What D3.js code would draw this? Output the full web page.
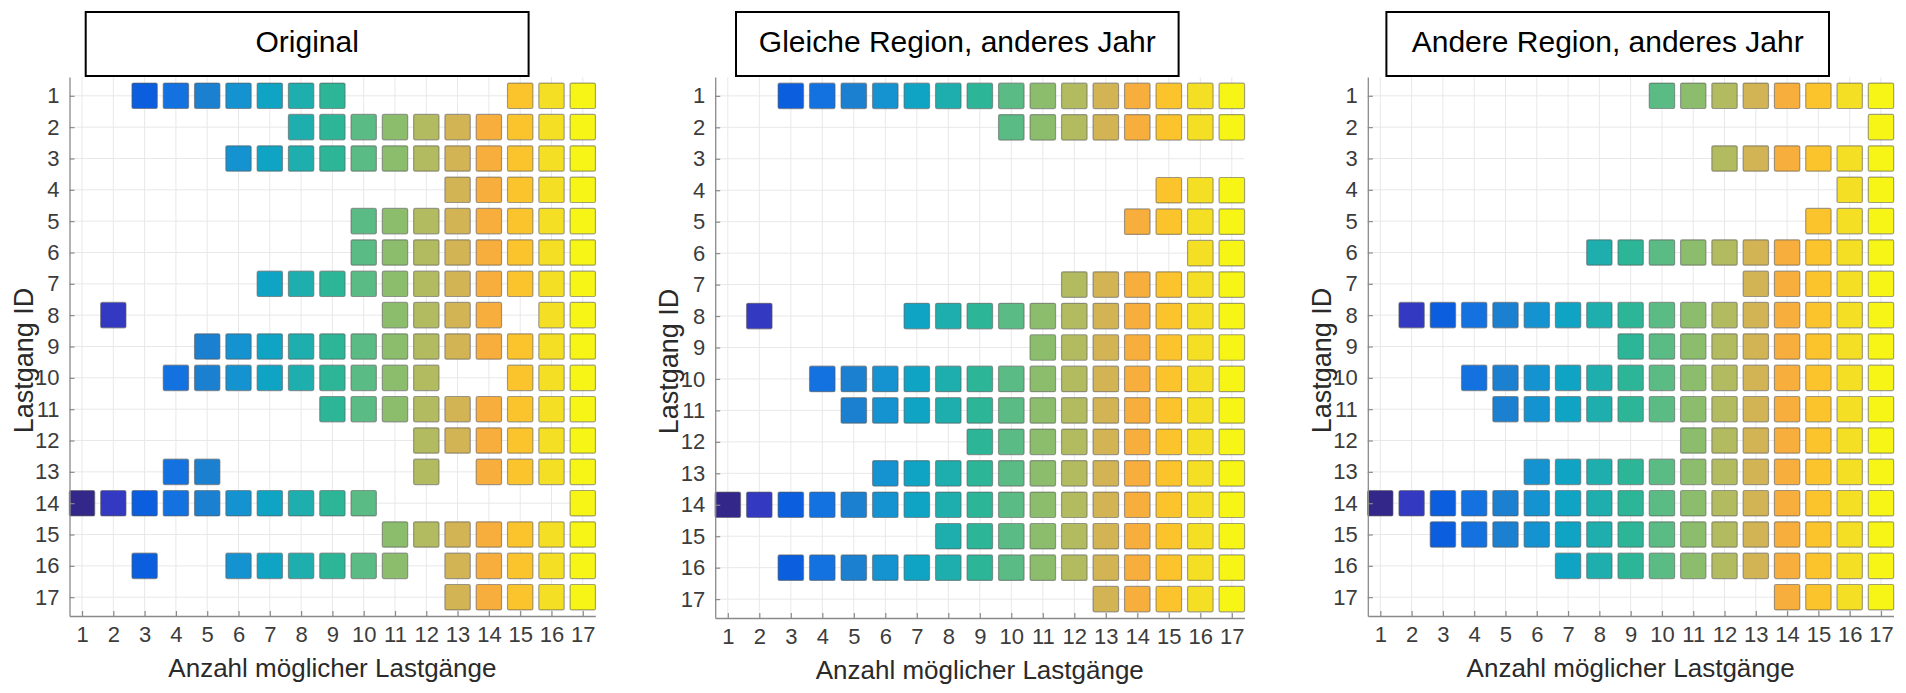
<!DOCTYPE html>
<html>
<head>
<meta charset="utf-8">
<script src="https://cdn.jsdelivr.net/npm/d3@7"></script>
<style>
  html, body { margin: 0; padding: 0; background: #ffffff; }
  svg { display: block; }
  text { font-family: "Liberation Sans", Arial, Helvetica, sans-serif; }
</style>
</head>
<body>
<svg id="chart" width="1906" height="693"></svg>
<script>
// ---------------- DATA ----------------
const panelTitles = ["Original", "Gleiche Region, anderes Jahr", "Andere Region, anderes Jahr"];
const xAxisLabel = "Anzahl möglicher Lastgänge";
const yAxisLabel = "Lastgang ID";
const tickValues = [1, 2, 3, 4, 5, 6, 7, 8, 9, 10, 11, 12, 13, 14, 15, 16, 17];

// Per Lastgang ID (row 1..17): the columns (Anzahl möglicher Lastgänge) that are filled
const originalRows = [
  [3, 4, 5, 6, 7, 8, 9, 15, 16, 17],
  [8, 9, 10, 11, 12, 13, 14, 15, 16, 17],
  [6, 7, 8, 9, 10, 11, 12, 13, 14, 15, 16, 17],
  [13, 14, 15, 16, 17],
  [10, 11, 12, 13, 14, 15, 16, 17],
  [10, 11, 12, 13, 14, 15, 16, 17],
  [7, 8, 9, 10, 11, 12, 13, 14, 15, 16, 17],
  [2, 11, 12, 13, 14, 16, 17],
  [5, 6, 7, 8, 9, 10, 11, 12, 13, 14, 15, 16, 17],
  [4, 5, 6, 7, 8, 9, 10, 11, 12, 15, 16, 17],
  [9, 10, 11, 12, 13, 14, 15, 16, 17],
  [12, 13, 14, 15, 16, 17],
  [4, 5, 12, 14, 15, 16, 17],
  [1, 2, 3, 4, 5, 6, 7, 8, 9, 10, 17],
  [11, 12, 13, 14, 15, 16, 17],
  [3, 6, 7, 8, 9, 10, 11, 13, 14, 15, 16, 17],
  [13, 14, 15, 16, 17]
];

const sameRegionRows = [
  [3, 4, 5, 6, 7, 8, 9, 10, 11, 12, 13, 14, 15, 16, 17],
  [10, 11, 12, 13, 14, 15, 16, 17],
  [],
  [15, 16, 17],
  [14, 15, 16, 17],
  [16, 17],
  [12, 13, 14, 15, 16, 17],
  [2, 7, 8, 9, 10, 11, 12, 13, 14, 15, 16, 17],
  [11, 12, 13, 14, 15, 16, 17],
  [4, 5, 6, 7, 8, 9, 10, 11, 12, 13, 14, 15, 16, 17],
  [5, 6, 7, 8, 9, 10, 11, 12, 13, 14, 15, 16, 17],
  [9, 10, 11, 12, 13, 14, 15, 16, 17],
  [6, 7, 8, 9, 10, 11, 12, 13, 14, 15, 16, 17],
  [1, 2, 3, 4, 5, 6, 7, 8, 9, 10, 11, 12, 13, 14, 15, 16, 17],
  [8, 9, 10, 11, 12, 13, 14, 15, 16, 17],
  [3, 4, 5, 6, 7, 8, 9, 10, 11, 12, 13, 14, 15, 16, 17],
  [13, 14, 15, 16, 17]
];

const otherRegionRows = [
  [10, 11, 12, 13, 14, 15, 16, 17],
  [17],
  [12, 13, 14, 15, 16, 17],
  [16, 17],
  [15, 16, 17],
  [8, 9, 10, 11, 12, 13, 14, 15, 16, 17],
  [13, 14, 15, 16, 17],
  [2, 3, 4, 5, 6, 7, 8, 9, 10, 11, 12, 13, 14, 15, 16, 17],
  [9, 10, 11, 12, 13, 14, 15, 16, 17],
  [4, 5, 6, 7, 8, 9, 10, 11, 12, 13, 14, 15, 16, 17],
  [5, 6, 7, 8, 9, 10, 11, 12, 13, 14, 15, 16, 17],
  [11, 12, 13, 14, 15, 16, 17],
  [6, 7, 8, 9, 10, 11, 12, 13, 14, 15, 16, 17],
  [1, 2, 3, 4, 5, 6, 7, 8, 9, 10, 11, 12, 13, 14, 15, 16, 17],
  [3, 4, 5, 6, 7, 8, 9, 10, 11, 12, 13, 14, 15, 16, 17],
  [7, 8, 9, 10, 11, 12, 13, 14, 15, 16, 17],
  [14, 15, 16, 17]
];

// colour per column (parula-like)
const columnColors = [
  "#33288a", "#3439c2", "#0b5fde", "#1472e0", "#1b80d0", "#1493d0",
  "#10a4c4", "#1eaeae", "#2db597", "#5bbb85", "#8bbd6d", "#b3bb60",
  "#d3b454", "#f8ae3c", "#fcc42c", "#f5df24", "#f6f515"
];

// ---------------- LAYOUT ----------------
const panels = [
  { title: panelTitles[0], rows: originalRows,    x0: 69.5,   x1: 595.3,  y0: 77, y1: 616, box: [85.7, 528.6] },
  { title: panelTitles[1], rows: sameRegionRows,  x0: 715.2,  x1: 1244.4, y0: 77, y1: 618, box: [736, 1178.6] },
  { title: panelTitles[2], rows: otherRegionRows, x0: 1367.8, x1: 1893.5, y0: 77, y1: 616, box: [1386.4, 1829] }
];

const svg = d3.select("#chart");
svg.append("rect").attr("width", 1906).attr("height", 693).attr("fill", "#ffffff");

const colorScale = d3.scaleOrdinal().domain(tickValues).range(columnColors);

panels.forEach(p => {
  const g = svg.append("g");
  const x = d3.scaleLinear().domain([0.6, 17.4]).range([p.x0, p.x1]);
  const y = d3.scaleLinear().domain([0.4, 17.6]).range([p.y0, p.y1]);

  // grid
  g.append("g").selectAll("line").data(tickValues).join("line")
    .attr("x1", d => x(d)).attr("x2", d => x(d))
    .attr("y1", p.y0).attr("y2", p.y1)
    .attr("stroke", "#e8e8e8").attr("stroke-width", 1);
  g.append("g").selectAll("line").data(tickValues).join("line")
    .attr("y1", d => y(d)).attr("y2", d => y(d))
    .attr("x1", p.x0).attr("x2", p.x1)
    .attr("stroke", "#e8e8e8").attr("stroke-width", 1);

  // cells
  const cells = [];
  p.rows.forEach((cols, i) => {
    cols.forEach(c => cells.push({ row: tickValues[i], col: c }));
  });
  const half = 0.405;
  g.append("g").selectAll("rect").data(cells).join("rect")
    .attr("x", d => x(d.col - half))
    .attr("y", d => y(d.row - half))
    .attr("width", d => x(d.col + half) - x(d.col - half))
    .attr("height", d => y(d.row + half) - y(d.row - half))
    .attr("rx", 1.5)
    .attr("fill", d => colorScale(d.col))
    .attr("stroke", "#5a5a5a")
    .attr("stroke-opacity", 0.55)
    .attr("stroke-width", 1.2);

  // axes
  const xAxis = d3.axisBottom(x).tickValues(tickValues).tickSizeInner(-5).tickSizeOuter(0).tickPadding(10);
  const yAxis = d3.axisLeft(y).tickValues(tickValues).tickSizeInner(-5).tickSizeOuter(0).tickPadding(10);

  const gx = g.append("g").attr("transform", `translate(0,${p.y1})`).call(xAxis);
  const gy = g.append("g").attr("transform", `translate(${p.x0},0)`).call(yAxis);
  [gx, gy].forEach(ax => {
    ax.select(".domain").attr("stroke", "#8a8a8a").attr("stroke-width", 1.3);
    ax.selectAll(".tick line").attr("stroke", "#8a8a8a").attr("stroke-width", 1.2);
    ax.selectAll(".tick text").attr("fill", "#3c3c3c").attr("font-size", 22)
      .attr("font-family", "'Liberation Sans', Arial, sans-serif");
  });

  // axis titles
  g.append("text")
    .attr("x", (p.x0 + p.x1) / 2).attr("y", p.y1 + 52)
    .attr("text-anchor", "middle").attr("dominant-baseline", "central")
    .attr("font-size", 26).attr("fill", "#2a2a2a")
    .text(xAxisLabel);
  g.append("text")
    .attr("transform", `translate(${p.x0 - 46},${(y(1) + y(17)) / 2 + 14}) rotate(-90)`)
    .attr("text-anchor", "middle").attr("dominant-baseline", "central")
    .attr("font-size", 27).attr("fill", "#2a2a2a")
    .text(yAxisLabel);

  // title box
  g.append("rect")
    .attr("x", p.box[0]).attr("y", 12)
    .attr("width", p.box[1] - p.box[0]).attr("height", 64)
    .attr("fill", "#ffffff").attr("stroke", "#000000").attr("stroke-width", 2);
  g.append("text")
    .attr("x", (p.box[0] + p.box[1]) / 2).attr("y", 41)
    .attr("text-anchor", "middle").attr("dominant-baseline", "central")
    .attr("font-size", 30).attr("fill", "#000000")
    .text(p.title);
});
</script>
</body>
</html>
